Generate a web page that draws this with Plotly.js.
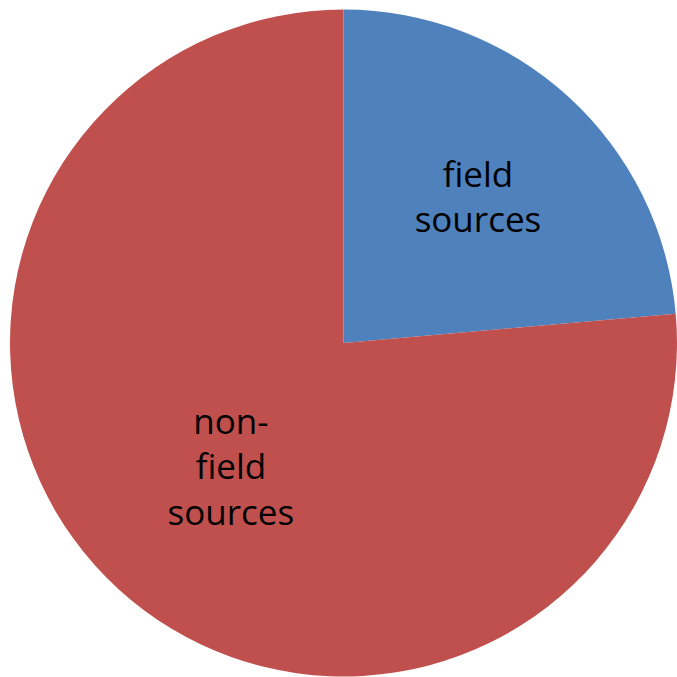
<!DOCTYPE html>
<html>
<head>
<meta charset="utf-8">
<script src="https://cdn.plot.ly/plotly-3.0.1.min.js"></script>
<style>html,body{margin:0;padding:0;background:#fff;}#chart{width:677px;height:677px;}</style>
</head>
<body>
<div id="chart"></div>
<script>
var categories = ["field sources", "non-field sources"];
var labelsText = ["field<br>sources", "non-<br>field<br>sources"];
var values = [23.6, 76.4];
var colors = ["#4F81BD", "#C0504D"];

var trace = {
  type: "pie",
  labels: categories,
  values: values,
  text: labelsText,
  textinfo: "text",
  textposition: "inside",
  insidetextorientation: "horizontal",
  sort: false,
  direction: "clockwise",
  rotation: 0,
  marker: {colors: colors, line: {width: 0}},
  textfont: {family: "Open Sans, Liberation Sans, sans-serif", size: 35, color: "#000"},
  hoverinfo: "label+percent"
};

var layout = {
  width: 677, height: 677,
  margin: {l: 10, r: 0, t: 9, b: 0},
  showlegend: false,
  paper_bgcolor: "#fff"
};

Plotly.newPlot("chart", [trace], layout, {displayModeBar: false});
</script>
</body>
</html>
